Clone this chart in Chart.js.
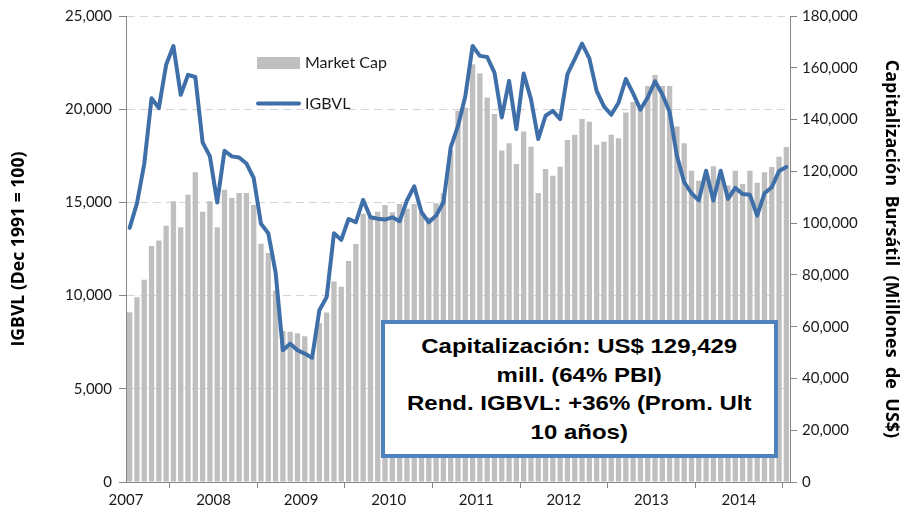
<!DOCTYPE html>
<html><head><meta charset="utf-8">
<script src="https://cdn.jsdelivr.net/npm/chart.js@4/dist/chart.umd.min.js"></script>
<style>
html,body{margin:0;padding:0;background:#fff;}
#wrap{position:relative;width:908px;height:514px;overflow:hidden;}
#note{position:absolute;left:381px;top:320px;width:389px;height:122px;padding-top:8px;border:4px solid #4f81bd;background:#fff;
font-family:"Liberation Sans",Arial,sans-serif;font-weight:bold;font-size:20.5px;line-height:28.5px;text-align:center;color:#000;}
#note span{display:inline-block;transform:scaleX(1.17);transform-origin:50% 50%;}
</style></head>
<body><div id="wrap"><canvas id="c" width="908" height="514"></canvas>
<div id="note"><span>Capitalización: US$ 129,429<br>mill. (64% PBI)<br>Rend. IGBVL: +36% (Prom. Ult<br>10 años)</span></div></div>
<script>
// Years shown on the x axis (one tick every 12 months, Jan 2007 .. Jan 2014)
const yearLabels = ['2007','2008','2009','2010','2011','2012','2013','2014'];
// Monthly market capitalisation, millions of US$ (Jan 2007 .. Jul 2014)
const marketCap = [
  65600, 71400, 78100, 91200, 93300, 99000,108400, 98400,111000,119600,104400,108400,
  98400,112900,109700,111600,111600,107000, 92000, 88500, 74000, 58300, 58000, 57500,
  56300, 48500, 61400, 65500, 77400, 75400, 85400, 91900,103600,102600,104400,107000,
 104200,107400,105500,107400,104200,102300,107700,111500,128000,143400,144600,161400,
 157800,148500,142100,128000,130800,122800,135400,129500,111600,120900,118300,121800,
 132100,134100,140200,139200,130300,131400,134100,132800,142700,146800,145000,153000,
 157200,153000,153000,137300,130800,120200,116400,118000,122000,118000,114500,120200,
 115100,120200,115600,119600,121700,125600,129429];
// Monthly IGBVL index (Dec 1991 = 100)
const igbvl = [
  13630,14950,17060,20590,20060,22380,23390,20770,21840,21730,18220,17470,
  15000,17770,17470,17410,17090,16310,13850,13350,11250, 7070, 7420, 7070,
   6890, 6660, 9210, 9920,13350,12990,14110,13940,15130,14200,14120,14080,
  14200,13990,15100,15860,14470,13930,14290,15010,17950,19100,20700,23390,
  22860,22800,21960,19560,21520,18930,21910,20540,18400,19650,19910,19470,
  21880,22680,23520,22730,20980,20150,19700,20350,21620,20850,19980,20630,
  21500,20800,19860,17500,16080,15490,15110,16700,15100,16700,15190,15780,
  15450,15410,14290,15490,15810,16680,16900];
const seriesNames = ['Market Cap','IGBVL'];
const leftTicks = [0,5000,10000,15000,20000,25000];
const rightTicks = [0,20000,40000,60000,80000,100000,120000,140000,160000,180000];

const BAR = '#bfbfbf', LINE = '#3f6fa9', AXIS = '#868686';
const tickFont = {family:'Lato', size:15};

const insideLegend = {
  id:'insideLegend',
  afterDatasetsDraw(chart){
    const ctx = chart.ctx, ca = chart.chartArea;
    const x0 = ca.left + 131, w = 43, tx = x0 + w + 5;
    ctx.save();
    ctx.font = '16px Lato';
    ctx.textBaseline = 'middle';
    const ds = chart.data.datasets;
    ctx.fillStyle = ds[1].backgroundColor;
    ctx.fillRect(x0, ca.top + 41, w, 12);
    ctx.fillStyle = '#1a1a1a';
    ctx.fillText(ds[1].label, tx, ca.top + 47);
    ctx.strokeStyle = ds[0].borderColor; ctx.lineWidth = 4; ctx.lineCap = 'round';
    ctx.beginPath(); ctx.moveTo(x0 + 1, ca.top + 87.5); ctx.lineTo(x0 + w - 1, ca.top + 87.5); ctx.stroke();
    ctx.fillText(ds[0].label, tx, ca.top + 87.5);
    ctx.restore();
  }
};

new Chart(document.getElementById('c'), {
  type:'bar',
  data:{
    datasets:[
      {type:'line', label:seriesNames[1], yAxisID:'y', order:0,
       data: igbvl.map((v,i)=>({x:i+0.5, y:v})),
       borderColor:LINE, backgroundColor:LINE, borderWidth:4, pointRadius:0, tension:0,
       borderJoinStyle:'round', borderCapStyle:'round', fill:false},
      {type:'bar', label:seriesNames[0], yAxisID:'y1', order:1,
       data: marketCap.map((v,i)=>({x:i+0.5, y:v})),
       backgroundColor:BAR, borderWidth:0, barPercentage:0.73, categoryPercentage:1}
    ]
  },
  options:{
    responsive:false, animation:false, devicePixelRatio:1,
    layout:{padding:{top:15,left:0,right:0,bottom:0}},
    plugins:{legend:{display:false}, tooltip:{enabled:false}},
    scales:{
      x:{type:'linear', min:0, max:marketCap.length, offset:false,
         ticks:{stepSize:12, includeBounds:false, autoSkip:false, maxRotation:0, padding:3,
                color:'#1a1a1a', font:tickFont, callback:(v)=>yearLabels[v/12]},
         grid:{drawOnChartArea:false, drawTicks:true, tickLength:6, color:AXIS, tickColor:AXIS},
         border:{color:AXIS, width:1},
         afterFit(s){ s.height = 32; }},
      y:{position:'left', min:0, max:leftTicks[leftTicks.length-1],
         afterBuildTicks(s){ s.ticks = leftTicks.map(v=>({value:v})); },
         ticks:{padding:7, color:'#1a1a1a', font:tickFont, callback:(v)=>v.toLocaleString('en-US')},
         grid:{color:(c)=> (c.tick && c.tick.value===0) ? 'rgba(0,0,0,0)' : '#d4d4d4',
               tickColor:AXIS, tickLength:7, lineWidth:1},
         border:{color:AXIS, width:1, dash:[8,5]},
         title:{display:true, text:'IGBVL (Dec 1991 = 100)', color:'#000',
                font:{family:'Open Sans', size:17.6, weight:'bold'}, padding:{top:8,bottom:0}},
         afterFit(s){ s.width = 126; }},
      y1:{position:'right', min:0, max:rightTicks[rightTicks.length-1],
         afterBuildTicks(s){ s.ticks = rightTicks.map(v=>({value:v})); },
         ticks:{padding:5, color:'#1a1a1a', font:tickFont, callback:(v)=>v.toLocaleString('en-US')},
         grid:{drawOnChartArea:false, tickColor:AXIS, tickLength:7, color:AXIS},
         border:{color:AXIS, width:1},
         title:{display:true, text:'Capitalización  Bursátil  (Millones  de  US$)', color:'#000',
                font:{family:'Open Sans', size:18, weight:'bold'}, padding:{top:6,bottom:0}},
         afterFit(s){ s.width = 118; }}
    }
  },
  plugins:[insideLegend]
});
</script>
</body></html>
